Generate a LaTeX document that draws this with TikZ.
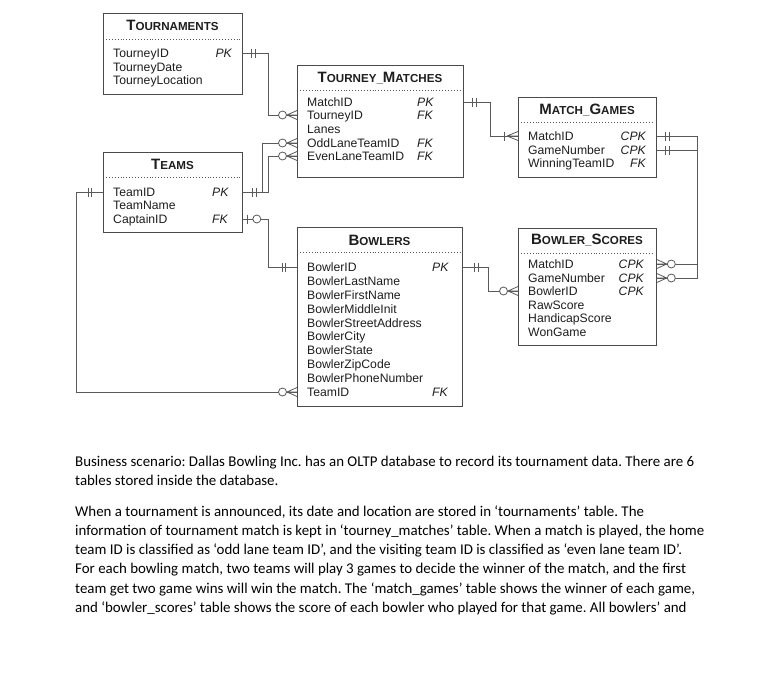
\documentclass[tikz,border=0pt]{standalone}
\usepackage{fontspec}
\setmainfont{Liberation Sans}
\newfontfamily\bodyfont{Carlito}
\usetikzlibrary{calc}
\definecolor{linec}{HTML}{5A5A5A}
\definecolor{boxc}{HTML}{4A4A4A}
\definecolor{txtc}{HTML}{1E1E1E}
\newcommand\ttlA{\fontsize{15}{15}\selectfont}
\newcommand\ttlB{\fontsize{11.6}{12}\selectfont}
\begin{document}
\frenchspacing
\begin{tikzpicture}[x=1pt,y=-1pt,
  tbl/.style={draw=boxc,line width=0.8pt,fill=white,inner sep=0pt,anchor=north west},
  ttl/.style={font=\bfseries,text=txtc,inner sep=0pt},
  row/.style={font=\fontsize{12.2}{13}\selectfont,text=txtc,inner sep=0pt,text height=8.8pt,text depth=0pt,anchor=west},
  key/.style={font=\fontsize{12.2}{13}\selectfont\itshape,text=txtc,inner sep=0pt,text height=8.8pt,text depth=0pt},
  sep/.style={draw=linec,dotted,line width=0.9pt},
  conn/.style={draw=linec,line width=0.8pt},
  para/.style={font=\bodyfont\fontsize{14.9}{17}\selectfont,text=black,inner sep=0pt,anchor=base west},
  pics/bars2/.style={code={\draw[conn] (0,-4.5) -- (0,4.5) (3.5,-4.5) -- (3.5,4.5);}},
  pics/zmany/.style={code={\draw[conn] (-10,0) -- (0,-4.5) (-10,0) -- (0,4.5) (-10,0) -- (0,0);
     \draw[conn,fill=white] (-14.5,0) circle (4);}},
  pics/onemany/.style={code={\draw[conn] (-14,-4.5) -- (-14,4.5);
     \draw[conn] (-11,0) -- (0,-4.5) (-11,0) -- (0,4.5) (-11,0) -- (0,0);}},
  pics/zone/.style={code={\draw[conn] (5,-4.5) -- (5,4.5);
     \draw[conn,fill=white] (14,0) circle (4);}}
]
\fill[white] (0,0) rectangle (759,680);
\useasboundingbox (0,0) rectangle (759,680);

% ---------- tables ----------
\node[tbl,minimum width=139pt,minimum height=81pt] (tourn) at (103,13) {};
\node[tbl,minimum width=166pt,minimum height=112pt] (tm) at (297,65) {};
\node[tbl,minimum width=138pt,minimum height=80pt] (mg) at (518,97) {};
\node[tbl,minimum width=139pt,minimum height=80pt] (teams) at (103,152) {};
\node[tbl,minimum width=165pt,minimum height=179pt] (bowl) at (297,227) {};
\node[tbl,minimum width=138pt,minimum height=117pt] (bs) at (518,228) {};

% titles
\node[ttl] (tournT) at (172.5,25) {\ttlA T\ttlB OURNAMENTS};
\node[ttl] (tmT) at (380,78) {\ttlA T\ttlB OURNEY\_\ttlA M\ttlB ATCHES};
\node[ttl] (mgT) at (587,110) {\ttlA M\ttlB ATCH\_\ttlA G\ttlB AMES};
\node[ttl] (teamsT) at (172.5,164) {\ttlA T\ttlB EAMS};
\node[ttl] (bowlT) at (379.5,240) {\ttlA B\ttlB OWLERS};
\node[ttl] (bsT) at (587,240) {\ttlA B\ttlB OWLER\_\ttlA S\ttlB CORES};

% dotted separators
\draw[sep] (106,39) -- (240,39);
\draw[sep] (300,90) -- (461,90);
\draw[sep] (521,122) -- (654,122);
\draw[sep] (106,177) -- (240,177);
\draw[sep] (300,252) -- (460,252);
\draw[sep] (521,253) -- (654,253);

% TOURNAMENTS rows
\node[row] (tr1) at (113,53) {TourneyID};
\node[row] (tr2) at (113,67) {TourneyDate};
\node[row] (tr3) at (113,80) {TourneyLocation};
\node[key,anchor=east] (trk1) at (232,53) {PK};

% TOURNEY_MATCHES rows
\node[row] (tm1) at (307,102) {MatchID};
\node[row] (tm2) at (307,115) {TourneyID};
\node[row] (tm3) at (307,129) {Lanes};
\node[row] (tm4) at (307,143) {OddLaneTeamID};
\node[row] (tm5) at (307,156) {EvenLaneTeamID};
\node[key,anchor=west] (tmk1) at (417,102) {PK};
\node[key,anchor=west] (tmk2) at (417,115) {FK};
\node[key,anchor=west] (tmk4) at (417,143) {FK};
\node[key,anchor=west] (tmk5) at (417,156) {FK};

% MATCH_GAMES rows
\node[row] (mg1) at (528,136) {MatchID};
\node[row] (mg2) at (528,150) {GameNumber};
\node[row] (mg3) at (528,163) {WinningTeamID};
\node[key,anchor=east] (mgk1) at (646,136) {CPK};
\node[key,anchor=east] (mgk2) at (646,150) {CPK};
\node[key,anchor=east] (mgk3) at (646,163) {FK};

% TEAMS rows
\node[row] (te1) at (113,192) {TeamID};
\node[row] (te2) at (113,205) {TeamName};
\node[row] (te3) at (113,219) {CaptainID};
\node[key,anchor=west] (tek1) at (212,192) {PK};
\node[key,anchor=west] (tek3) at (212,219) {FK};

% BOWLERS rows
\node[row] (b1) at (307,267) {BowlerID};
\node[row] (b2) at (307,280.9) {BowlerLastName};
\node[row] (b3) at (307,294.8) {BowlerFirstName};
\node[row] (b4) at (307,308.7) {BowlerMiddleInit};
\node[row] (b5) at (307,322.6) {BowlerStreetAddress};
\node[row] (b6) at (307,336.5) {BowlerCity};
\node[row] (b7) at (307,350.4) {BowlerState};
\node[row] (b8) at (307,364.3) {BowlerZipCode};
\node[row] (b9) at (307,378.2) {BowlerPhoneNumber};
\node[row] (b10) at (307,392) {TeamID};
\node[key,anchor=west] (bk1) at (432,267) {PK};
\node[key,anchor=west] (bk10) at (432,392) {FK};

% BOWLER_SCORES rows
\node[row] (s1) at (528,264) {MatchID};
\node[row] (s2) at (528,278) {GameNumber};
\node[row] (s3) at (528,291) {BowlerID};
\node[row] (s4) at (528,305) {RawScore};
\node[row] (s5) at (528,318) {HandicapScore};
\node[row] (s6) at (528,332) {WonGame};
\node[key,anchor=east] (sk1) at (644,264) {CPK};
\node[key,anchor=east] (sk2) at (644,278) {CPK};
\node[key,anchor=east] (sk3) at (644,291) {CPK};

% ---------- connectors ----------
\draw[conn] (tourn.east |- tr1) -- ++(26,0) |- (tm.west |- tm2);
\draw[conn] (tm.east |- tm1) -- ++(27,0) |- (mg.west |- mg1);
\draw[conn] (teams.east |- te1) -- ++(20,0) |- (tm.west |- tm4);
\draw[conn] (teams.east |- te1) -- ++(26,0) |- (tm.west |- tm5);
\draw[conn] (teams.east |- te3) -- ++(26,0) |- (bowl.west |- b1);
\draw[conn] (teams.west |- te1) -- ++(-27,0) |- (bowl.west |- b10);
\draw[conn] (bowl.east |- b1) -- ++(26,0) |- (bs.west |- s3);
\draw[conn] (mg.east |- mg1) -- ++(41,0) |- (bs.east |- s1);
\draw[conn] (mg.east |- mg2) -- ++(41,0) |- (bs.east |- s2);

% ---------- cardinality marks ----------
\pic at ($(tourn.east |- tr1)+(9,0)$) {bars2};
\pic at (tm.west |- tm2) {zmany};
\pic at ($(tm.east |- tm1)+(9,0)$) {bars2};
\pic at (mg.west |- mg1) {onemany};
\pic at ($(teams.east |- te1)+(10,0)$) {bars2};
\pic at (tm.west |- tm4) {zmany};
\pic at (tm.west |- tm5) {zmany};
\pic at (teams.east |- te3) {zone};
\pic at ($(bowl.west |- b1)+(-15,0)$) {bars2};
\pic at ($(teams.west |- te1)+(-15,0)$) {bars2};
\pic at (bowl.west |- b10) {zmany};
\pic at ($(bowl.east |- b1)+(12,0)$) {bars2};
\pic at (bs.west |- s3) {zmany};
\pic at ($(mg.east |- mg1)+(9,0)$) {bars2};
\pic at ($(mg.east |- mg2)+(9,0)$) {bars2};
\pic[xscale=-1] at (bs.east |- s1) {zmany};
\pic[xscale=-1] at (bs.east |- s2) {zmany};

% ---------- paragraph text ----------
\node[para] (p1) at (75,466) {Business scenario: Dallas Bowling Inc. has an OLTP database to record its tournament data. There are 6};
\node[para] (p2) at (75,485.5) {tables stored inside the database.};
\node[para] (p3) at (75,516) {When a tournament is announced, its date and location are stored in ‘tournaments’ table. The};
\node[para] (p4) at (75,535.5) {information of tournament match is kept in ‘tourney\_matches’ table. When a match is played, the home};
\node[para] (p5) at (75,554.5) {team ID is classified as ‘odd lane team ID’, and the visiting team ID is classified as ‘even lane team ID’.};
\node[para] (p6) at (75,573.5) {For each bowling match, two teams will play 3 games to decide the winner of the match, and the first};
\node[para] (p7) at (75,593) {team get two game wins will win the match. The ‘match\_games’ table shows the winner of each game,};
\node[para] (p8) at (75,612) {and ‘bowler\_scores’ table shows the score of each bowler who played for that game. All bowlers’ and};
\end{tikzpicture}
\end{document}
